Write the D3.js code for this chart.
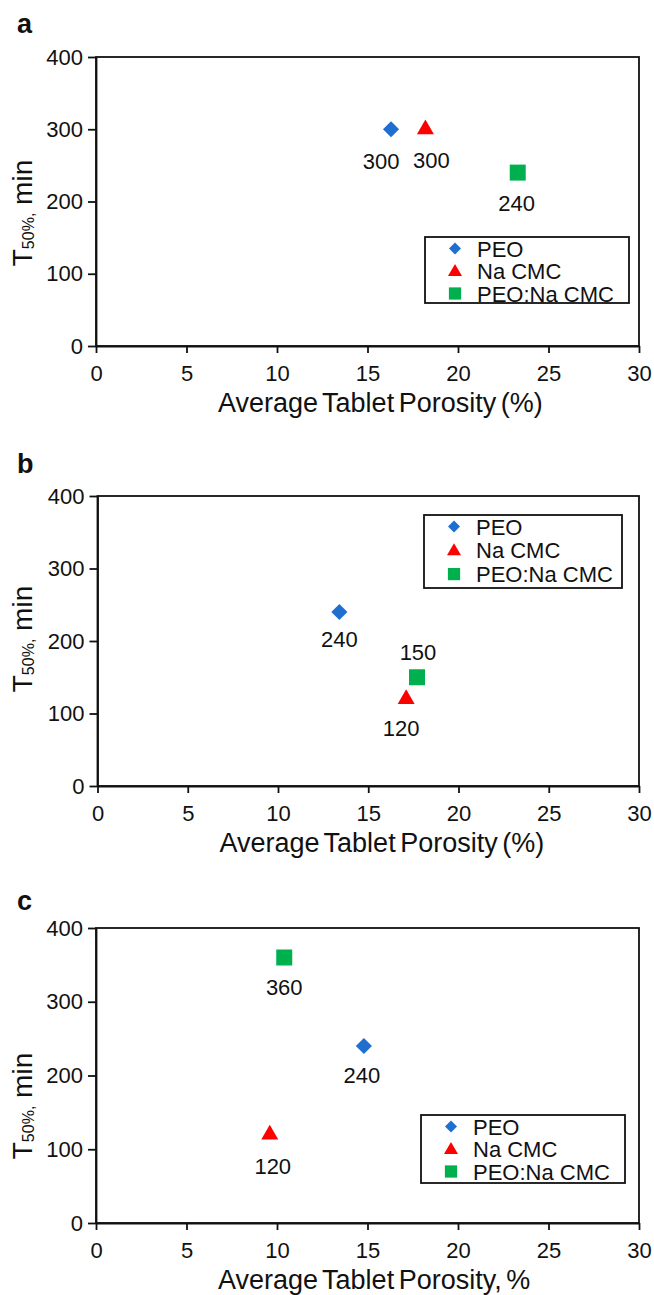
<!DOCTYPE html>
<html>
<head>
<meta charset="utf-8">
<script src="https://cdn.jsdelivr.net/npm/d3@7"></script>
<style>
body { margin: 0; background: #fff; }
text { font-family: "Liberation Sans", Arial, sans-serif; fill: #111; }
</style>
</head>
<body>
<div class="chart"></div>
<script>
// data
var seriesNames = ["PEO", "Na CMC", "PEO:Na CMC"];
var seriesColors = ["#1f6fd1", "#ff0000", "#00b04f"];
var xTicks = [0, 5, 10, 15, 20, 25, 30];
var yTicks = [0, 100, 200, 300, 400];

var porosityA = [16.3, 18.2, 23.3];
var t50A = [300, 300, 240];
var porosityB = [13.4, 17.1, 17.7];
var t50B = [240, 120, 150];
var porosityC = [14.8, 9.6, 10.4];
var t50C = [240, 120, 360];

var xTitleAB = "Average Tablet Porosity (%)";
var xTitleC = "Average Tablet Porosity, %";

// layout for the three stacked panels
var panels = [
    {letter: "a", xs: porosityA, ys: t50A, xTitle: xTitleAB,
     left: 96, top: 57, w: 543, h: 289, letterY: 33, yTitleMid: 213,
     legend: {x: 329, y: 180, w: 204, h: 66, row: 22.5},
     labelShift: [[-10, 40], [6, 39], [-1, 38]]},
    {letter: "b", xs: porosityB, ys: t50B, xTitle: xTitleAB,
     left: 97.5, top: 496, w: 541.5, h: 290, letterY: 473, yTitleMid: 639,
     legend: {x: 326.5, y: 19, w: 198, h: 73, row: 23.8},
     labelShift: [[0, 35], [-5, 37], [1, -17]]},
    {letter: "c", xs: porosityC, ys: t50C, xTitle: xTitleC,
     left: 96, top: 928, w: 543, h: 295, letterY: 910, yTitleMid: 1106,
     legend: {x: 325, y: 187, w: 204, h: 68, row: 22.5},
     labelShift: [[-2, 37], [3, 39], [0, 37]]}
];

var svg = d3.select(".chart")
    .append("svg")
        .attr("width", 654)
        .attr("height", 1295);

function markerPath(i, big) {
    if (i === 0) return d3.symbol().type(d3.symbolSquare).size(big ? 130 : 72)();
    if (i === 1) return d3.symbol().type(d3.symbolTriangle).size(big ? 125 : 85)();
    return d3.symbol().type(d3.symbolSquare).size(big ? 256 : 150)();
}
function markerRot(i) { return i === 0 ? " rotate(45)" : ""; }

panels.forEach(function(p) {
    var g = svg.append("g")
        .attr("transform", "translate(" + p.left + "," + p.top + ")");

    var x = d3.scaleLinear().domain([0, 30]).range([0, p.w]);
    var y = d3.scaleLinear().domain([0, 400]).range([p.h, 0]);

    // frame
    g.append("rect")
        .attr("width", p.w).attr("height", p.h)
        .attr("fill", "none").attr("stroke", "#111").attr("stroke-width", 1.8);

    // X axis
    var xa = g.append("g")
        .attr("transform", "translate(0," + p.h + ")")
        .call(d3.axisBottom(x).tickValues(xTicks).tickSize(7).tickPadding(12).tickSizeOuter(0));
    // Y axis
    var ya = g.append("g")
        .call(d3.axisLeft(y).tickValues(yTicks).tickSize(8).tickPadding(5).tickSizeOuter(0));

    [xa, ya].forEach(function(a) {
        a.select(".domain").attr("stroke", "#111").attr("stroke-width", 1.8);
        a.selectAll(".tick line").attr("stroke", "#111").attr("stroke-width", 1.8);
        a.selectAll(".tick text")
            .attr("font-family", "Liberation Sans, Arial, sans-serif")
            .attr("font-size", 22).attr("fill", "#111");
    });

    // axis titles
    svg.append("text")
        .attr("x", p.left + 122)
        .attr("y", p.top + p.h + 65.5)
        .attr("font-size", 27)
        .attr("word-spacing", -3)
        .text(p.xTitle);

    var yt = svg.append("text")
        .attr("transform", "translate(32," + p.yTitleMid + ") rotate(-90)")
        .attr("text-anchor", "middle")
        .attr("font-size", 28);
    yt.append("tspan").text("T");
    yt.append("tspan").attr("font-size", 16).attr("dy", 2).text("50%,");
    yt.append("tspan").attr("dy", -2).text(" min");

    // panel letter
    svg.append("text")
        .attr("x", 17).attr("y", p.letterY)
        .attr("font-size", 27).attr("font-weight", "bold")
        .text(p.letter);

    // points
    var pts = p.xs.map(function(v, i) { return {x: v, y: p.ys[i], i: i}; });
    g.selectAll(".pt").data(pts).enter().append("path")
        .attr("class", "pt")
        .attr("d", function(d) { return markerPath(d.i, true); })
        .attr("transform", function(d) {
            return "translate(" + x(d.x) + "," + y(d.y) + ")" + markerRot(d.i);
        })
        .attr("fill", function(d) { return seriesColors[d.i]; });

    g.selectAll(".lbl").data(pts).enter().append("text")
        .attr("class", "lbl")
        .attr("x", function(d) { return x(d.x) + p.labelShift[d.i][0]; })
        .attr("y", function(d) { return y(d.y) + p.labelShift[d.i][1]; })
        .attr("text-anchor", "middle")
        .attr("font-size", 22)
        .text(function(d) { return d.y; });

    // legend
    var lg = g.append("g")
        .attr("transform", "translate(" + p.legend.x + "," + p.legend.y + ")");
    lg.append("rect")
        .attr("width", p.legend.w).attr("height", p.legend.h)
        .attr("fill", "#fff").attr("stroke", "#111").attr("stroke-width", 1.8);
    seriesNames.forEach(function(name, i) {
        var cy = 11.5 + i * p.legend.row;
        lg.append("path")
            .attr("d", markerPath(i, false))
            .attr("transform", "translate(30," + (cy + (i === 1 ? 1 : 0)) + ")" + markerRot(i))
            .attr("fill", seriesColors[i]);
        lg.append("text")
            .attr("x", 52).attr("y", cy + 8)
            .attr("font-size", 22)
            .text(name);
    });
});
</script>
</body>
</html>
